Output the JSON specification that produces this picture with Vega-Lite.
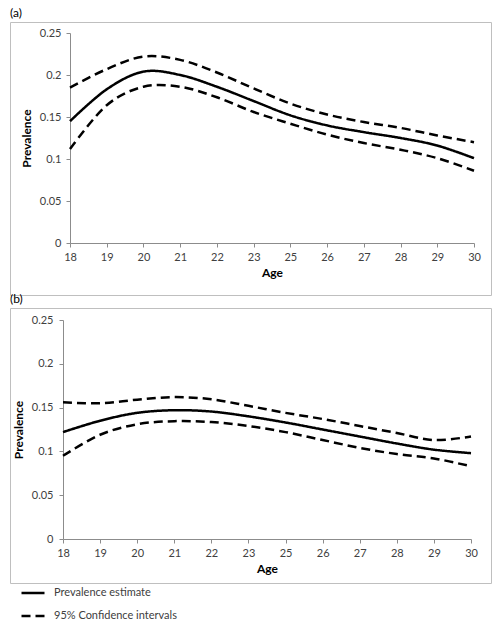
{
  "$schema": "https://vega.github.io/schema/vega-lite/v6.json",
  "padding": {"left": 9, "top": 6, "right": 5, "bottom": 5},
  "autosize": {"type": "pad"},
  "spacing": -4,
  "config": {
    "font": "Lato",
    "view": {"stroke": "#bfbfbf", "strokeWidth": 1},
    "title": {"anchor": "start", "fontSize": 12, "fontWeight": "normal", "color": "#000000", "offset": 2, "font": "Lato"},
    "axis": {"grid": false, "domainColor": "#8c8c8c", "tickColor": "#8c8c8c", "tickSize": 4, "labelColor": "#404040", "labelFontSize": 11, "labelFont": "Lato", "titleFont": "Lato", "titleFontSize": 12, "titleFontWeight": "bold", "titleColor": "#000000", "labelPadding": 4}
  },
  "datasets": {
    "a": [
      {"age": 18, "series": "Prevalence estimate", "bound": "est", "value": 0.145},
      {"age": 19, "series": "Prevalence estimate", "bound": "est", "value": 0.183},
      {"age": 20, "series": "Prevalence estimate", "bound": "est", "value": 0.204},
      {"age": 21, "series": "Prevalence estimate", "bound": "est", "value": 0.200},
      {"age": 22, "series": "Prevalence estimate", "bound": "est", "value": 0.186},
      {"age": 23, "series": "Prevalence estimate", "bound": "est", "value": 0.169},
      {"age": 25, "series": "Prevalence estimate", "bound": "est", "value": 0.152},
      {"age": 26, "series": "Prevalence estimate", "bound": "est", "value": 0.140},
      {"age": 27, "series": "Prevalence estimate", "bound": "est", "value": 0.132},
      {"age": 28, "series": "Prevalence estimate", "bound": "est", "value": 0.125},
      {"age": 29, "series": "Prevalence estimate", "bound": "est", "value": 0.116},
      {"age": 30, "series": "Prevalence estimate", "bound": "est", "value": 0.101},
      {"age": 18, "series": "95% Confidence intervals", "bound": "lo", "value": 0.112},
      {"age": 19, "series": "95% Confidence intervals", "bound": "lo", "value": 0.164},
      {"age": 20, "series": "95% Confidence intervals", "bound": "lo", "value": 0.186},
      {"age": 21, "series": "95% Confidence intervals", "bound": "lo", "value": 0.186},
      {"age": 22, "series": "95% Confidence intervals", "bound": "lo", "value": 0.1735},
      {"age": 23, "series": "95% Confidence intervals", "bound": "lo", "value": 0.156},
      {"age": 25, "series": "95% Confidence intervals", "bound": "lo", "value": 0.142},
      {"age": 26, "series": "95% Confidence intervals", "bound": "lo", "value": 0.129},
      {"age": 27, "series": "95% Confidence intervals", "bound": "lo", "value": 0.119},
      {"age": 28, "series": "95% Confidence intervals", "bound": "lo", "value": 0.111},
      {"age": 29, "series": "95% Confidence intervals", "bound": "lo", "value": 0.101},
      {"age": 30, "series": "95% Confidence intervals", "bound": "lo", "value": 0.086},
      {"age": 18, "series": "95% Confidence intervals", "bound": "hi", "value": 0.185},
      {"age": 19, "series": "95% Confidence intervals", "bound": "hi", "value": 0.207},
      {"age": 20, "series": "95% Confidence intervals", "bound": "hi", "value": 0.222},
      {"age": 21, "series": "95% Confidence intervals", "bound": "hi", "value": 0.218},
      {"age": 22, "series": "95% Confidence intervals", "bound": "hi", "value": 0.203},
      {"age": 23, "series": "95% Confidence intervals", "bound": "hi", "value": 0.184},
      {"age": 25, "series": "95% Confidence intervals", "bound": "hi", "value": 0.166},
      {"age": 26, "series": "95% Confidence intervals", "bound": "hi", "value": 0.153},
      {"age": 27, "series": "95% Confidence intervals", "bound": "hi", "value": 0.144},
      {"age": 28, "series": "95% Confidence intervals", "bound": "hi", "value": 0.137},
      {"age": 29, "series": "95% Confidence intervals", "bound": "hi", "value": 0.128},
      {"age": 30, "series": "95% Confidence intervals", "bound": "hi", "value": 0.120}
    ],
    "b": [
      {"age": 18, "series": "Prevalence estimate", "bound": "est", "value": 0.122},
      {"age": 19, "series": "Prevalence estimate", "bound": "est", "value": 0.135},
      {"age": 20, "series": "Prevalence estimate", "bound": "est", "value": 0.144},
      {"age": 21, "series": "Prevalence estimate", "bound": "est", "value": 0.147},
      {"age": 22, "series": "Prevalence estimate", "bound": "est", "value": 0.1455},
      {"age": 23, "series": "Prevalence estimate", "bound": "est", "value": 0.140},
      {"age": 25, "series": "Prevalence estimate", "bound": "est", "value": 0.133},
      {"age": 26, "series": "Prevalence estimate", "bound": "est", "value": 0.125},
      {"age": 27, "series": "Prevalence estimate", "bound": "est", "value": 0.117},
      {"age": 28, "series": "Prevalence estimate", "bound": "est", "value": 0.109},
      {"age": 29, "series": "Prevalence estimate", "bound": "est", "value": 0.102},
      {"age": 30, "series": "Prevalence estimate", "bound": "est", "value": 0.098},
      {"age": 18, "series": "95% Confidence intervals", "bound": "lo", "value": 0.095},
      {"age": 19, "series": "95% Confidence intervals", "bound": "lo", "value": 0.119},
      {"age": 20, "series": "95% Confidence intervals", "bound": "lo", "value": 0.131},
      {"age": 21, "series": "95% Confidence intervals", "bound": "lo", "value": 0.1345},
      {"age": 22, "series": "95% Confidence intervals", "bound": "lo", "value": 0.1335},
      {"age": 23, "series": "95% Confidence intervals", "bound": "lo", "value": 0.129},
      {"age": 25, "series": "95% Confidence intervals", "bound": "lo", "value": 0.122},
      {"age": 26, "series": "95% Confidence intervals", "bound": "lo", "value": 0.113},
      {"age": 27, "series": "95% Confidence intervals", "bound": "lo", "value": 0.104},
      {"age": 28, "series": "95% Confidence intervals", "bound": "lo", "value": 0.097},
      {"age": 29, "series": "95% Confidence intervals", "bound": "lo", "value": 0.092},
      {"age": 30, "series": "95% Confidence intervals", "bound": "lo", "value": 0.083},
      {"age": 18, "series": "95% Confidence intervals", "bound": "hi", "value": 0.156},
      {"age": 19, "series": "95% Confidence intervals", "bound": "hi", "value": 0.155},
      {"age": 20, "series": "95% Confidence intervals", "bound": "hi", "value": 0.159},
      {"age": 21, "series": "95% Confidence intervals", "bound": "hi", "value": 0.162},
      {"age": 22, "series": "95% Confidence intervals", "bound": "hi", "value": 0.1595},
      {"age": 23, "series": "95% Confidence intervals", "bound": "hi", "value": 0.152},
      {"age": 25, "series": "95% Confidence intervals", "bound": "hi", "value": 0.144},
      {"age": 26, "series": "95% Confidence intervals", "bound": "hi", "value": 0.137},
      {"age": 27, "series": "95% Confidence intervals", "bound": "hi", "value": 0.129},
      {"age": 28, "series": "95% Confidence intervals", "bound": "hi", "value": 0.121},
      {"age": 29, "series": "95% Confidence intervals", "bound": "hi", "value": 0.113},
      {"age": 30, "series": "95% Confidence intervals", "bound": "hi", "value": 0.117}
    ]
  },
  "vconcat": [
    {
      "title": "(a)",
      "width": 481,
      "height": 273,
      "data": {"name": "a"},
      "mark": {"type": "line", "interpolate": "cardinal", "color": "#000000", "strokeWidth": 2.5},
      "encoding": {
        "x": {"field": "age", "type": "ordinal", "scale": {"type": "point", "padding": 0, "range": [60, 464]}, "axis": {"title": "Age", "labelAngle": 0, "offset": -52, "titlePadding": 5}},
        "y": {"field": "value", "type": "quantitative", "scale": {"domain": [0, 0.25], "range": [221, 11]}, "axis": {"title": "Prevalence", "values": [0, 0.05, 0.1, 0.15, 0.2, 0.25], "format": "~g", "offset": -60, "labelPadding": 5, "titlePadding": 6}},
        "strokeDash": {"field": "series", "type": "nominal", "scale": {"domain": ["Prevalence estimate", "95% Confidence intervals"], "range": [[1, 0], [9, 5]]}, "legend": {"orient": "none", "legendX": 10, "legendY": 558, "title": null, "symbolType": "stroke", "symbolSize": 529, "symbolStrokeWidth": 2.5, "symbolStrokeColor": "#000000", "labelFontSize": 11, "labelFont": "Lato", "labelColor": "#404040", "rowPadding": 5, "labelOffset": 8}},
        "detail": {"field": "bound", "type": "nominal"}
      }
    },
    {
      "title": "(b)",
      "width": 481,
      "height": 275,
      "data": {"name": "b"},
      "mark": {"type": "line", "interpolate": "cardinal", "color": "#000000", "strokeWidth": 2.5},
      "encoding": {
        "x": {"field": "age", "type": "ordinal", "scale": {"type": "point", "padding": 0, "range": [53, 461]}, "axis": {"title": "Age", "labelAngle": 0, "offset": -44, "titlePadding": 5}},
        "y": {"field": "value", "type": "quantitative", "scale": {"domain": [0, 0.25], "range": [231, 12]}, "axis": {"title": "Prevalence", "values": [0, 0.05, 0.1, 0.15, 0.2, 0.25], "format": "~g", "offset": -53, "labelPadding": 6, "titlePadding": 6}},
        "strokeDash": {"field": "series", "type": "nominal", "scale": {"domain": ["Prevalence estimate", "95% Confidence intervals"], "range": [[1, 0], [9, 5]]}},
        "detail": {"field": "bound", "type": "nominal"}
      }
    }
  ]
}
